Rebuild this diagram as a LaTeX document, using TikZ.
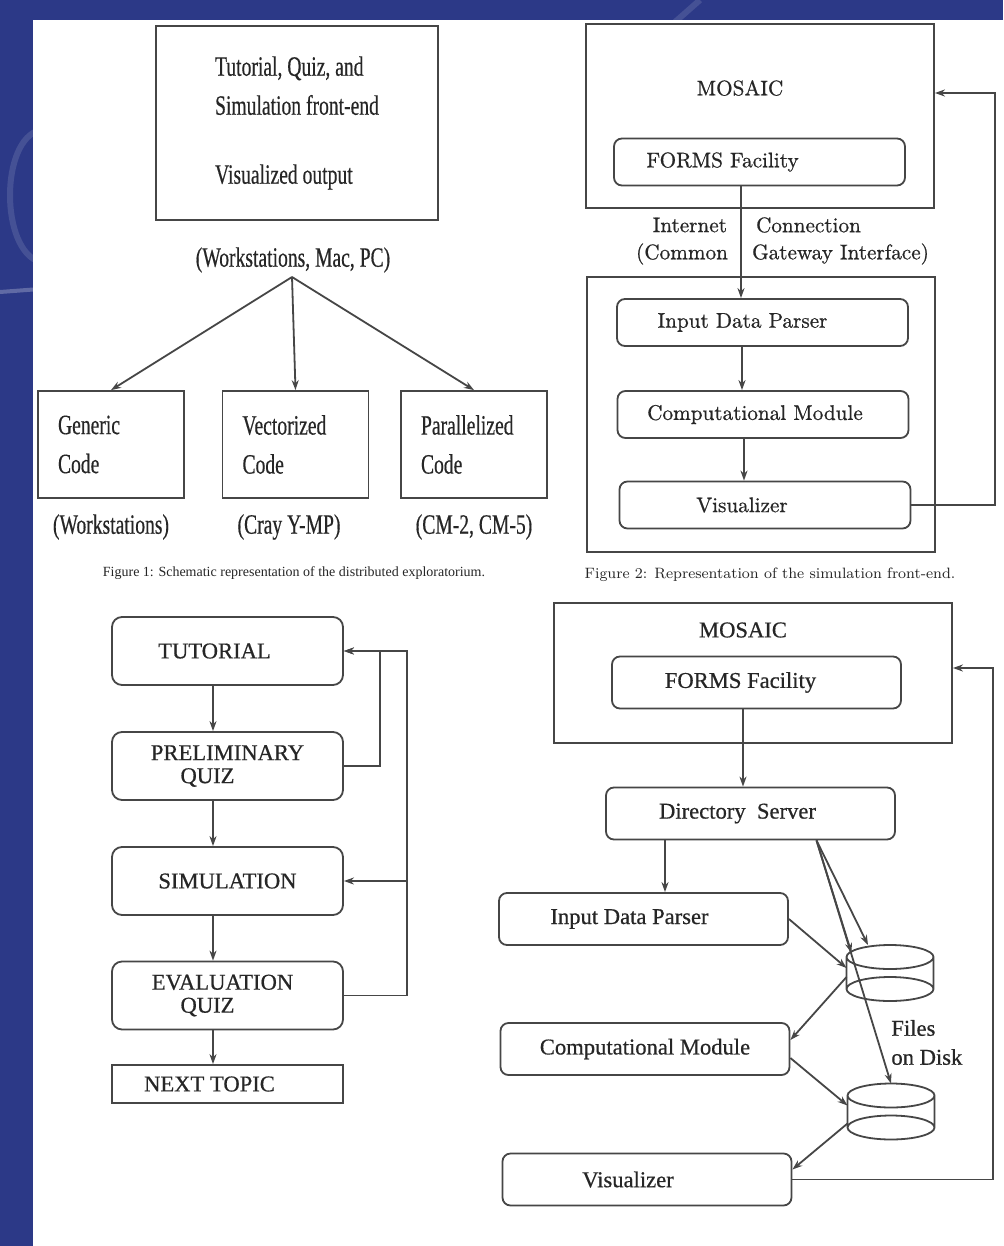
\documentclass[tikz,border=0pt]{standalone}
\usepackage{fontspec}
\usepackage{tikz}
\usetikzlibrary{arrows.meta}
\newfontfamily\tmsfont[FakeBold=0.6]{Liberation Serif}
\newfontfamily\tmsnarrow[FakeStretch=0.7,FakeBold=0.4]{Liberation Serif}
\newfontfamily\capfont{Liberation Serif}
\newfontfamily\cmheavy[FakeBold=0.7]{Latin Modern Roman}
\definecolor{slideblue}{RGB}{44,57,135}
\definecolor{ink}{RGB}{70,70,70}

\tikzset{
  wire/.style={draw=ink, line width=0.9pt},
  arr/.style={wire, -{Stealth[length=5pt,width=3.5pt]}},
  figone/.style={font=\tmsnarrow\fontsize{14}{19.5}\selectfont},
  cmr/.style={font=\cmheavy\fontsize{10.6}{13}\selectfont},
  tms/.style={font=\tmsfont\fontsize{11.3}{11.5}\selectfont},
  cbox/.style={wire, figone, rectangle, inner xsep=10pt, text width=53pt, minimum height=53.5pt, align=left},
  rbox/.style={wire, rounded corners=4pt, minimum width=145.5pt, minimum height=23.5pt, inner sep=0pt},
  rboxb/.style={wire, tms, rounded corners=4pt, minimum width=144.5pt, minimum height=26pt, inner sep=0pt},
  qbox/.style={wire, tms, rounded corners=5pt, minimum width=115.5pt, minimum height=34pt, align=center},
  nbox/.style={wire, tms, minimum width=115.5pt, minimum height=19pt, inner sep=0pt},
  disk/.style={minimum width=43.5pt, minimum height=28pt, inner sep=0pt, outer sep=0pt}
}

\begin{document}
\begin{tikzpicture}[x=0.5pt,y=-0.5pt,text=black!85]
  \useasboundingbox (0,0) rectangle (1003,1246);
  % slide background
  \fill[slideblue] (0,0) rectangle (1003,1246);
  \draw[white,opacity=.12,line width=3pt] (40,130) .. controls (0,140) and (0,250) .. (40,262);
  \draw[white,opacity=.25,line width=2pt] (0,292) -- (40,289);
  \draw[white,opacity=.12,line width=3pt] (675,22) -- (700,0);
  \fill[white] (33,20) rectangle (1003,1246);

  % Figure 1
  \node[wire, figone, minimum width=141pt, minimum height=97pt, align=left] (front) at (297,123)
    {Tutorial, Quiz, and\\Simulation front-end\\[15pt]Visualized output};
  \node[figone] (plat) at (293,260) {(Workstations, Mac, PC)};
  \coordinate (apex) at (292,277);
  \node[cbox] (gen) at (111,444.5) {Generic\\Code};
  \node[cbox] (vec) at (295.5,444.5) {Vectorized\\Code};
  \node[cbox] (par) at (474,444.5) {Parallelized\\Code};
  \foreach \b in {gen,vec,par}
    \draw[arr] (apex) -- (\b.north);
  \node[figone] (genhw) at (111,527) {(Workstations)};
  \node[figone] (vechw) at (289,527) {(Cray Y-MP)};
  \node[figone] (parhw) at (474,527) {(CM-2, CM-5)};
  \node[font=\capfont\fontsize{7}{8}\selectfont] (capone) at (294,573)
    {Figure 1: Schematic representation of the distributed exploratorium.};

  % Figure 2
  \node[wire, minimum width=174pt, minimum height=92pt] (mos) at (760,116) {};
  \node[cmr] (mostxt) at (740,88) {MOSAIC};
  \node[rbox, cmr] (forms) at (759.5,162) {FORMS Facility\hspace*{37pt}};
  \node[wire, minimum width=174pt, minimum height=137.5pt] (simfe) at (761,414.5) {};
  \node[rbox, cmr] (idp) at (762.5,322.5) {Input Data Parser\hspace*{20pt}};
  \node[rbox, cmr] (cmod) at (763,414.5) {Computational Module\hspace*{8pt}};
  \node[rbox, cmr] (vis) at (765,505) {Visualizer\hspace*{23pt}};
  \node[cmr, anchor=east] (inet) at (734,225) {Internet};
  \node[cmr, anchor=west] (conn) at (749,225) {Connection};
  \node[cmr, anchor=east] (cgia) at (735,254) {(Common};
  \node[cmr, anchor=west] (cgib) at (745,254) {Gateway Interface)};
  \draw[arr] ([xshift=-9.25pt]forms.south) -- ([xshift=-10.75pt]idp.north);
  \draw[arr] ([xshift=-10.25pt]idp.south) -- ([xshift=-10.5pt]cmod.north);
  \draw[arr] ([xshift=-9.5pt]cmod.south) -- ([xshift=-10.5pt]vis.north);
  \coordinate (fbtwo) at (995,93);
  \draw[arr] (vis.east) -| (fbtwo) -- (fbtwo -| mos.east);
  \node[font=\fontsize{7.5}{9}\selectfont] (captwo) at (770,575)
    {Figure 2: Representation of the simulation front-end.};

  % Figure 3
  \node[qbox] (tut) at (227.5,651) {TUTORIAL\hspace*{13pt}};
  \node[qbox] (pre) at (227.5,766) {PRELIMINARY\\QUIZ\hspace*{20pt}};
  \node[qbox] (simu) at (227.5,881) {SIMULATION};
  \node[qbox] (eva) at (227.5,995.5) {EVALUATION\hspace*{5pt}\\QUIZ\hspace*{20pt}};
  \node[nbox] (nxt) at (227.5,1084) {NEXT TOPIC\hspace*{18pt}};
  \foreach \a/\b in {tut/pre,pre/simu,simu/eva,eva/nxt}
    \draw[arr] ([xshift=-7.25pt]\a.south) -- ([xshift=-7.25pt]\b.north);
  \coordinate (fba) at (380,651);
  \coordinate (fbb) at (407,651);
  \coordinate (fbc) at (407,881);
  \draw[arr] (pre.east) -| (fba) -- (tut.east);
  \draw[arr] (eva.east) -| (fbb) -- (tut.east);
  \draw[arr] (fbc) -- (simu.east);

  % Figure 4
  \node[wire, minimum width=199pt, minimum height=70pt] (mostwo) at (753,673) {};
  \node[tms] (mostwotxt) at (743,630) {MOSAIC};
  \node[rboxb] (formstwo) at (756.5,682.5) {FORMS Facility\hspace*{16pt}};
  \node[rboxb] (dsrv) at (750.5,813.5) {Directory\ \ Server\hspace*{13pt}};
  \node[rboxb] (idptwo) at (643.5,919) {Input Data Parser\hspace*{14pt}};
  \node[rboxb] (cmodtwo) at (645,1049) {Computational Module};
  \node[rboxb] (vistwo) at (647,1179.5) {Visualizer\hspace*{19pt}};
  \node[disk] (dska) at (890,973) {};
  \node[disk] (dskb) at (891,1111.5) {};
  \foreach \d in {dska,dskb}
    \draw[wire] ([yshift=-6pt]\d.north) ellipse (21.75pt and 6pt)
                ([yshift=6pt]\d.south) ellipse (21.75pt and 6pt)
                ([yshift=-6pt]\d.north west) -- ([yshift=6pt]\d.south west)
                ([yshift=-6pt]\d.north east) -- ([yshift=6pt]\d.south east);
  \node[font=\tmsfont\fontsize{11.3}{14.5}\selectfont, align=left, anchor=west, inner sep=0pt] (files) at (891,1042.5)
    {Files\\on Disk};

  \draw[arr] ([xshift=-6.75pt]formstwo.south) -- ([xshift=-3.75pt]dsrv.north);
  \draw[arr] ([xshift=-42.75pt]dsrv.south) -- ([xshift=10.75pt]idptwo.north);
  \draw[arr] ([xshift=33pt]dsrv.south) -- ([xshift=-11pt]dska.north);
  \draw[arr] ([xshift=33pt]dsrv.south) -- ([xshift=2.5pt,yshift=-4pt]dska.north west);
  \draw[arr] ([xshift=33pt]dsrv.south) -- (dskb.north);
  \draw[arr] (idptwo.east) -- ([yshift=2.5pt]dska.west);
  \draw[arr] ([yshift=-2pt]dska.west) -- ([yshift=4.5pt]cmodtwo.east);
  \draw[arr] ([yshift=-4.5pt]cmodtwo.east) -- ([yshift=3pt]dskb.west);
  \draw[arr] ([yshift=-6pt]dskb.west) -- ([yshift=5pt]vistwo.east);
  \coordinate (fbd) at (993,668);
  \draw[arr] (vistwo.east) -| (fbd) -- (fbd -| mostwo.east);
\end{tikzpicture}
\end{document}
